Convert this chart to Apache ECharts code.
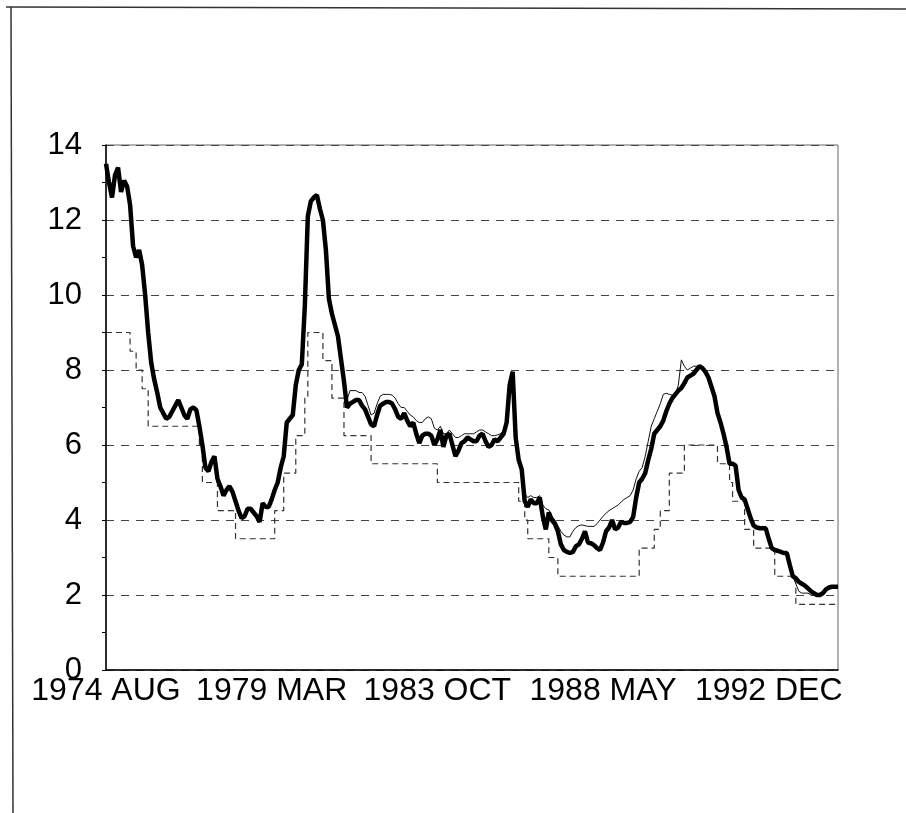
<!DOCTYPE html>
<html>
<head>
<meta charset="utf-8">
<script src="https://cdn.jsdelivr.net/npm/echarts@6/dist/echarts.min.js"></script>
<style>
  html, body { margin: 0; padding: 0; background: #fff; }
  #chart { width: 906px; height: 813px; }
</style>
</head>
<body>
<div id="chart"></div>
<script>
// monthly series, 1974 AUG .. 1994 NOV
const startYear = 1974
const startMonth = 7 // AUG, zero based
const monthNames = ['JAN', 'FEB', 'MAR', 'APR', 'MAY', 'JUN', 'JUL', 'AUG', 'SEP', 'OCT', 'NOV', 'DEC']

// thick line
const rateMain = [
  13.5, 13.0, 12.6, 13.2, 13.4, 12.75, 13.05, 12.9, 12.4, 11.3,   // 0
  11.0, 11.2, 10.8, 10.0, 9.0, 8.2, 7.75, 7.4, 7.0, 6.85,          // 10
  6.7, 6.75, 6.9, 7.05, 7.2, 7.0, 6.8, 6.7, 6.95, 7.0,             // 20
  6.93, 6.5, 6.0, 5.4, 5.3, 5.55, 5.7, 5.1, 4.9, 4.65,             // 30
  4.8, 4.9, 4.75, 4.5, 4.25, 4.05, 4.1, 4.3, 4.3, 4.2,             // 40
  4.1, 3.95, 4.45, 4.35, 4.35, 4.55, 4.8, 5.0, 5.4, 5.7,           // 50
  6.6, 6.7, 6.8, 7.6, 8.0, 8.15, 9.7, 12.1, 12.5, 12.6,            // 60
  12.67, 12.3, 12.0, 11.2, 9.9, 9.5, 9.2, 8.9, 8.3, 7.7,           // 70
  7.0, 7.1, 7.15, 7.2, 7.2, 7.05, 6.95, 6.75, 6.55, 6.5,           // 80
  6.8, 7.05, 7.1, 7.15, 7.15, 7.1, 6.95, 6.75, 6.7, 6.85,          // 90
  6.65, 6.5, 6.6, 6.3, 6.05, 6.25, 6.3, 6.3, 6.25, 6.0,            // 100
  6.15, 6.4, 5.95, 6.25, 6.3, 6.0, 5.7, 5.85, 6.05, 6.1,           // 110
  6.2, 6.15, 6.1, 6.1, 6.25, 6.3, 6.1, 5.95, 6.0, 6.15,            // 120
  6.1, 6.2, 6.3, 6.6, 7.6, 7.95, 6.2, 5.6, 5.35, 4.5,              // 130
  4.35, 4.55, 4.45, 4.45, 4.6, 4.1, 3.75, 4.2, 4.0, 3.9,           // 140
  3.7, 3.35, 3.2, 3.15, 3.12, 3.15, 3.3, 3.35, 3.5, 3.7,           // 150
  3.4, 3.38, 3.33, 3.25, 3.2, 3.4, 3.7, 3.8, 4.0, 3.75,            // 160
  3.8, 3.95, 3.92, 3.92, 3.95, 4.08, 4.6, 5.0, 5.1, 5.25,          // 170
  5.6, 5.9, 6.3, 6.4, 6.5, 6.65, 6.9, 7.1, 7.25, 7.35,             // 180
  7.45, 7.52, 7.65, 7.8, 7.85, 7.9, 8.0, 8.1, 8.05, 7.95,          // 190
  7.8, 7.55, 7.3, 6.85, 6.6, 6.3, 5.95, 5.5, 5.5, 5.45,            // 200
  4.8, 4.6, 4.55, 4.3, 4.05, 3.85, 3.8, 3.78, 3.78, 3.78,          // 210
  3.5, 3.25, 3.2, 3.18, 3.15, 3.12, 3.12, 2.8, 2.5, 2.45,          // 220
  2.35, 2.3, 2.25, 2.18, 2.1, 2.05, 2.0, 2.0, 2.05, 2.15,          // 230
  2.2, 2.22, 2.22, 2.22                                            // 240
]

// thin line
const rateSecond = [
  13.5, 13.0, 12.6, 13.2, 13.4, 12.75, 13.05, 12.9, 12.4, 11.3,
  11.0, 11.2, 10.8, 10.0, 9.0, 8.2, 7.75, 7.4, 7.0, 6.85,
  6.7, 6.75, 6.9, 7.05, 7.2, 7.0, 6.8, 6.7, 6.95, 7.0,
  6.93, 6.5, 6.0, 5.4, 5.3, 5.55, 5.7, 5.1, 4.9, 4.65,
  4.8, 4.9, 4.75, 4.5, 4.25, 4.05, 4.1, 4.3, 4.3, 4.2,
  4.1, 3.95, 4.45, 4.35, 4.35, 4.55, 4.8, 5.0, 5.4, 5.7,
  6.6, 6.7, 6.8, 7.6, 8.0, 8.15, 9.7, 12.1, 12.5, 12.6,
  12.67, 12.3, 12.0, 11.2, 9.9, 9.5, 9.2, 8.9, 8.3, 7.7,
  7.2, 7.45, 7.45, 7.45, 7.4, 7.4, 7.3, 7.05, 6.8, 6.85,
  7.1, 7.3, 7.35, 7.35, 7.35, 7.33, 7.25, 7.1, 7.0, 7.0,
  6.9, 6.8, 6.75, 6.65, 6.6, 6.6, 6.7, 6.75, 6.7, 6.45,
  6.4, 6.5, 6.3, 6.3, 6.4, 6.3, 6.2, 6.2, 6.25, 6.3,
  6.3, 6.3, 6.3, 6.35, 6.4, 6.4, 6.35, 6.3, 6.25, 6.25,
  6.27, 6.3, 6.4, 6.6, 7.6, 7.95, 6.2, 5.6, 5.35, 4.7,
  4.6, 4.65, 4.6, 4.6, 4.65, 4.4, 4.3, 4.27, 4.1, 4.0,
  3.85, 3.7, 3.6, 3.55, 3.55, 3.7, 3.8, 3.85, 3.87, 3.85,
  3.83, 3.83, 3.83, 3.9, 4.0, 4.1, 4.18, 4.25, 4.3, 4.35,
  4.4, 4.48, 4.55, 4.6, 4.65, 4.8, 5.1, 5.3, 5.4, 5.7,
  6.1, 6.5, 6.7, 6.9, 7.1, 7.35, 7.38, 7.35, 7.33, 7.35,
  7.6, 8.27, 8.1, 8.0, 8.05, 8.1, 8.1, 8.1, 8.05, 7.95,
  7.8, 7.55, 7.3, 6.85, 6.6, 6.3, 5.95, 5.5, 5.5, 5.45,
  4.8, 4.6, 4.55, 4.3, 4.05, 3.85, 3.8, 3.78, 3.78, 3.78,
  3.5, 3.25, 3.2, 3.18, 3.15, 3.12, 3.12, 2.8, 2.5, 2.3,
  2.1, 2.05, 2.05, 2.05, 2.0, 2.0, 2.0, 2.05, 2.1, 2.15,
  2.2, 2.25, 2.25, 2.25
]

// dashed step line
const discountRate = [
  9, 9, 9, 9, 9, 9, 9, 9, 8.5, 8.5,
  8, 8, 7.5, 7.5, 6.5, 6.5, 6.5, 6.5, 6.5, 6.5,
  6.5, 6.5, 6.5, 6.5, 6.5, 6.5, 6.5, 6.5, 6.5, 6.5,
  6.5, 6, 5, 5, 5, 5, 5, 4.25, 4.25, 4.25,
  4.25, 4.25, 4.25, 3.5, 3.5, 3.5, 3.5, 3.5, 3.5, 3.5,
  3.5, 3.5, 3.5, 3.5, 3.5, 3.5, 4.25, 4.25, 4.25, 5.25,
  5.25, 5.25, 5.25, 6.25, 6.25, 6.25, 7.25, 9, 9, 9,
  9, 9, 8.25, 8.25, 8.25, 7.25, 7.25, 7.25, 7.25, 6.25,
  6.25, 6.25, 6.25, 6.25, 6.25, 6.25, 6.25, 6.25, 5.5, 5.5,
  5.5, 5.5, 5.5, 5.5, 5.5, 5.5, 5.5, 5.5, 5.5, 5.5,
  5.5, 5.5, 5.5, 5.5, 5.5, 5.5, 5.5, 5.5, 5.5, 5.5,
  5, 5, 5, 5, 5, 5, 5, 5, 5, 5,
  5, 5, 5, 5, 5, 5, 5, 5, 5, 5,
  5, 5, 5, 5, 5, 5, 5, 4.5, 4.5, 4,
  3.5, 3.5, 3.5, 3.5, 3.5, 3.5, 3.5, 3, 3, 3,
  2.5, 2.5, 2.5, 2.5, 2.5, 2.5, 2.5, 2.5, 2.5, 2.5,
  2.5, 2.5, 2.5, 2.5, 2.5, 2.5, 2.5, 2.5, 2.5, 2.5,
  2.5, 2.5, 2.5, 2.5, 2.5, 2.5, 2.5, 3.25, 3.25, 3.25,
  3.25, 3.25, 3.75, 3.75, 4.25, 4.25, 4.25, 5.25, 5.25, 5.25,
  5.25, 5.25, 6, 6, 6, 6, 6, 6, 6, 6,
  6, 6, 6, 5.5, 5.5, 5.5, 5.5, 5, 4.5, 4.5,
  4.5, 4.5, 3.75, 3.75, 3.75, 3.25, 3.25, 3.25, 3.25, 3.25,
  3.25, 3.25, 2.5, 2.5, 2.5, 2.5, 2.5, 2.5, 2.5, 1.75,
  1.75, 1.75, 1.75, 1.75, 1.75, 1.75, 1.75, 1.75, 1.75, 1.75,
  1.75, 1.75, 1.75, 1.75
]

// month labels like "1974 AUG"
const months = []
for (let i = 0; i < rateMain.length; i++) {
  const m = startMonth + i
  months.push((startYear + Math.floor(m / 12)) + ' ' + monthNames[m % 12])
}

const myChart = echarts.init(document.getElementById('chart'), null, { renderer: 'canvas' })

const font = 'Liberation Sans, Arial, sans-serif'

const option = {
  animation: false,
  backgroundColor: '#fff',
  grid: {
    left: 106,
    top: 145,
    width: 732,
    height: 525,
    show: true,
    borderColor: '#666',
    borderWidth: 1,
  },
  xAxis: {
    type: 'category',
    data: months,
    boundaryGap: false,
    axisLine: { lineStyle: { color: '#000', width: 1.5 } },
    axisTick: { show: false },
    axisLabel: {
      interval: 54,
      color: '#000',
      fontSize: 32,
      fontFamily: font,
      margin: 5,
    },
    splitLine: { show: false },
  },
  yAxis: {
    type: 'value',
    min: 0,
    max: 14,
    interval: 2,
    axisLine: { show: true, lineStyle: { color: '#000', width: 1.5 } },
    axisTick: { show: true, length: 4, lineStyle: { color: '#000' } },
    minorTick: { show: true, splitNumber: 2, length: 4, lineStyle: { color: '#000' } },
    axisLabel: {
      color: '#000',
      fontSize: 31,
      fontFamily: font,
      margin: 24,
    },
    splitLine: {
      show: true,
      lineStyle: { color: '#444', width: 1, type: [8, 7] },
    },
  },
  graphic: [
    // chart area frame
    { type: 'line', shape: { x1: 6, y1: 7, x2: 906, y2: 9 }, style: { stroke: '#333', lineWidth: 1.5 } },
    { type: 'line', shape: { x1: 11, y1: 7, x2: 13, y2: 813 }, style: { stroke: '#333', lineWidth: 1.5 } },
  ],
  series: [
    {
      name: 'discount',
      type: 'line',
      step: 'end',
      data: discountRate,
      showSymbol: false,
      lineStyle: { color: '#333', width: 1.2, type: [6, 4] },
      z: 1,
    },
    {
      name: 'second',
      type: 'line',
      data: rateSecond,
      showSymbol: false,
      lineStyle: { color: '#111', width: 1 },
      z: 2,
    },
    {
      name: 'main',
      type: 'line',
      data: rateMain,
      showSymbol: false,
      lineStyle: { color: '#000', width: 4.5 },
      z: 3,
    },
  ],
}

myChart.setOption(option)
</script>
</body>
</html>
